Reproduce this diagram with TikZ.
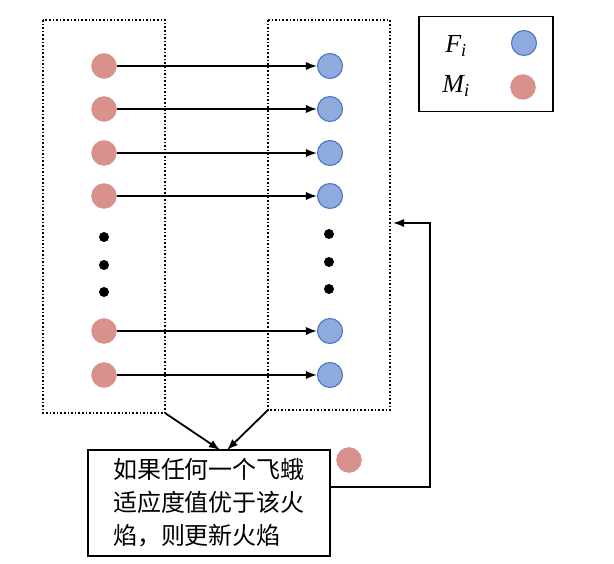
\documentclass[tikz,border=0pt]{standalone}
\usepackage{fontspec}
\setmainfont{Liberation Serif}
\newfontfamily\cjk{Noto Sans CJK SC}
\usetikzlibrary{arrows.meta}
\definecolor{mothred}{HTML}{D9918C}
\definecolor{flameblue}{HTML}{8FAADC}
\definecolor{flameedge}{HTML}{4472C4}
\begin{document}
\begin{tikzpicture}[x=1pt,y=-1pt]
    \tikzstyle{moth}=[circle,fill=mothred,draw=mothred,minimum size=25pt,inner sep=0pt]
    \tikzstyle{flame}=[circle,fill=flameblue,draw=flameedge,line width=1pt,minimum size=25pt,inner sep=0pt]
    \tikzstyle{dot}=[circle,fill=black,minimum size=10pt,inner sep=0pt]
    \tikzstyle{group}=[draw,dotted,line width=1.6pt]

    \useasboundingbox (0,0) rectangle (614,564);

    \draw[group] (43,20) rectangle (165,413);
    \draw[group] (268,20) rectangle (390,410);
    \coordinate (lb) at (165,413);
    \coordinate (rb) at (268,410);

    % moths and flames
    \foreach \i/\y in {1/66,2/109,3/153,4/196,5/331,6/375} {
        \node[moth]  (m\i) at (104,\y) {};
        \node[flame] (f\i) at (330,\y) {};
    }
    \foreach \i/\y in {1/237,2/265,3/292} {
        \node[dot] (ld\i) at (104,\y) {};
        \node[dot] (rd\i) at (329,\y-3) {};
    }

    % legend
    \node[draw,line width=1.8pt,minimum width=134pt,minimum height=95pt] (legend) at (486,64) {};
    \node[font=\itshape\fontsize{26}{26}\selectfont] (fl) at (456,46) {F\textsubscript{\textit{i}}};
    \node[font=\itshape\fontsize{26}{26}\selectfont] (ml) at (456,86) {M\textsubscript{\textit{i}}};
    \node[flame] (fk) at (524,43) {};
    \node[moth]  (mk) at (523,87) {};

    \node[draw,line width=1.8pt,minimum width=242pt,minimum height=106pt,align=left,inner sep=6pt,
          font=\cjk\fontsize{24}{33}\selectfont] (update) at (209,503)
          {如果任何一个飞蛾\\适应度值优于该火\\焰，则更新火焰};
    \node[moth] (stray) at (349,460) {};
    \coordinate (turn1) at (430,487);
    \coordinate (turn2) at (430,223);
    \coordinate (back) at (393,223);

    \pgfsetarrowsend{Latex}
    \tikzstyle{fwd} = [draw=black, line width=1.8pt]

    \foreach \i in {1,...,6} {
        \draw [fwd] (m\i) -- (f\i);
    }
    \draw [fwd] (lb) -- (220,450);
    \draw [fwd] (rb) -- (227,450);
    \draw [fwd] (update.east |- turn1) -- (turn1) -- (turn2) -- (back);
\end{tikzpicture}
\end{document}
